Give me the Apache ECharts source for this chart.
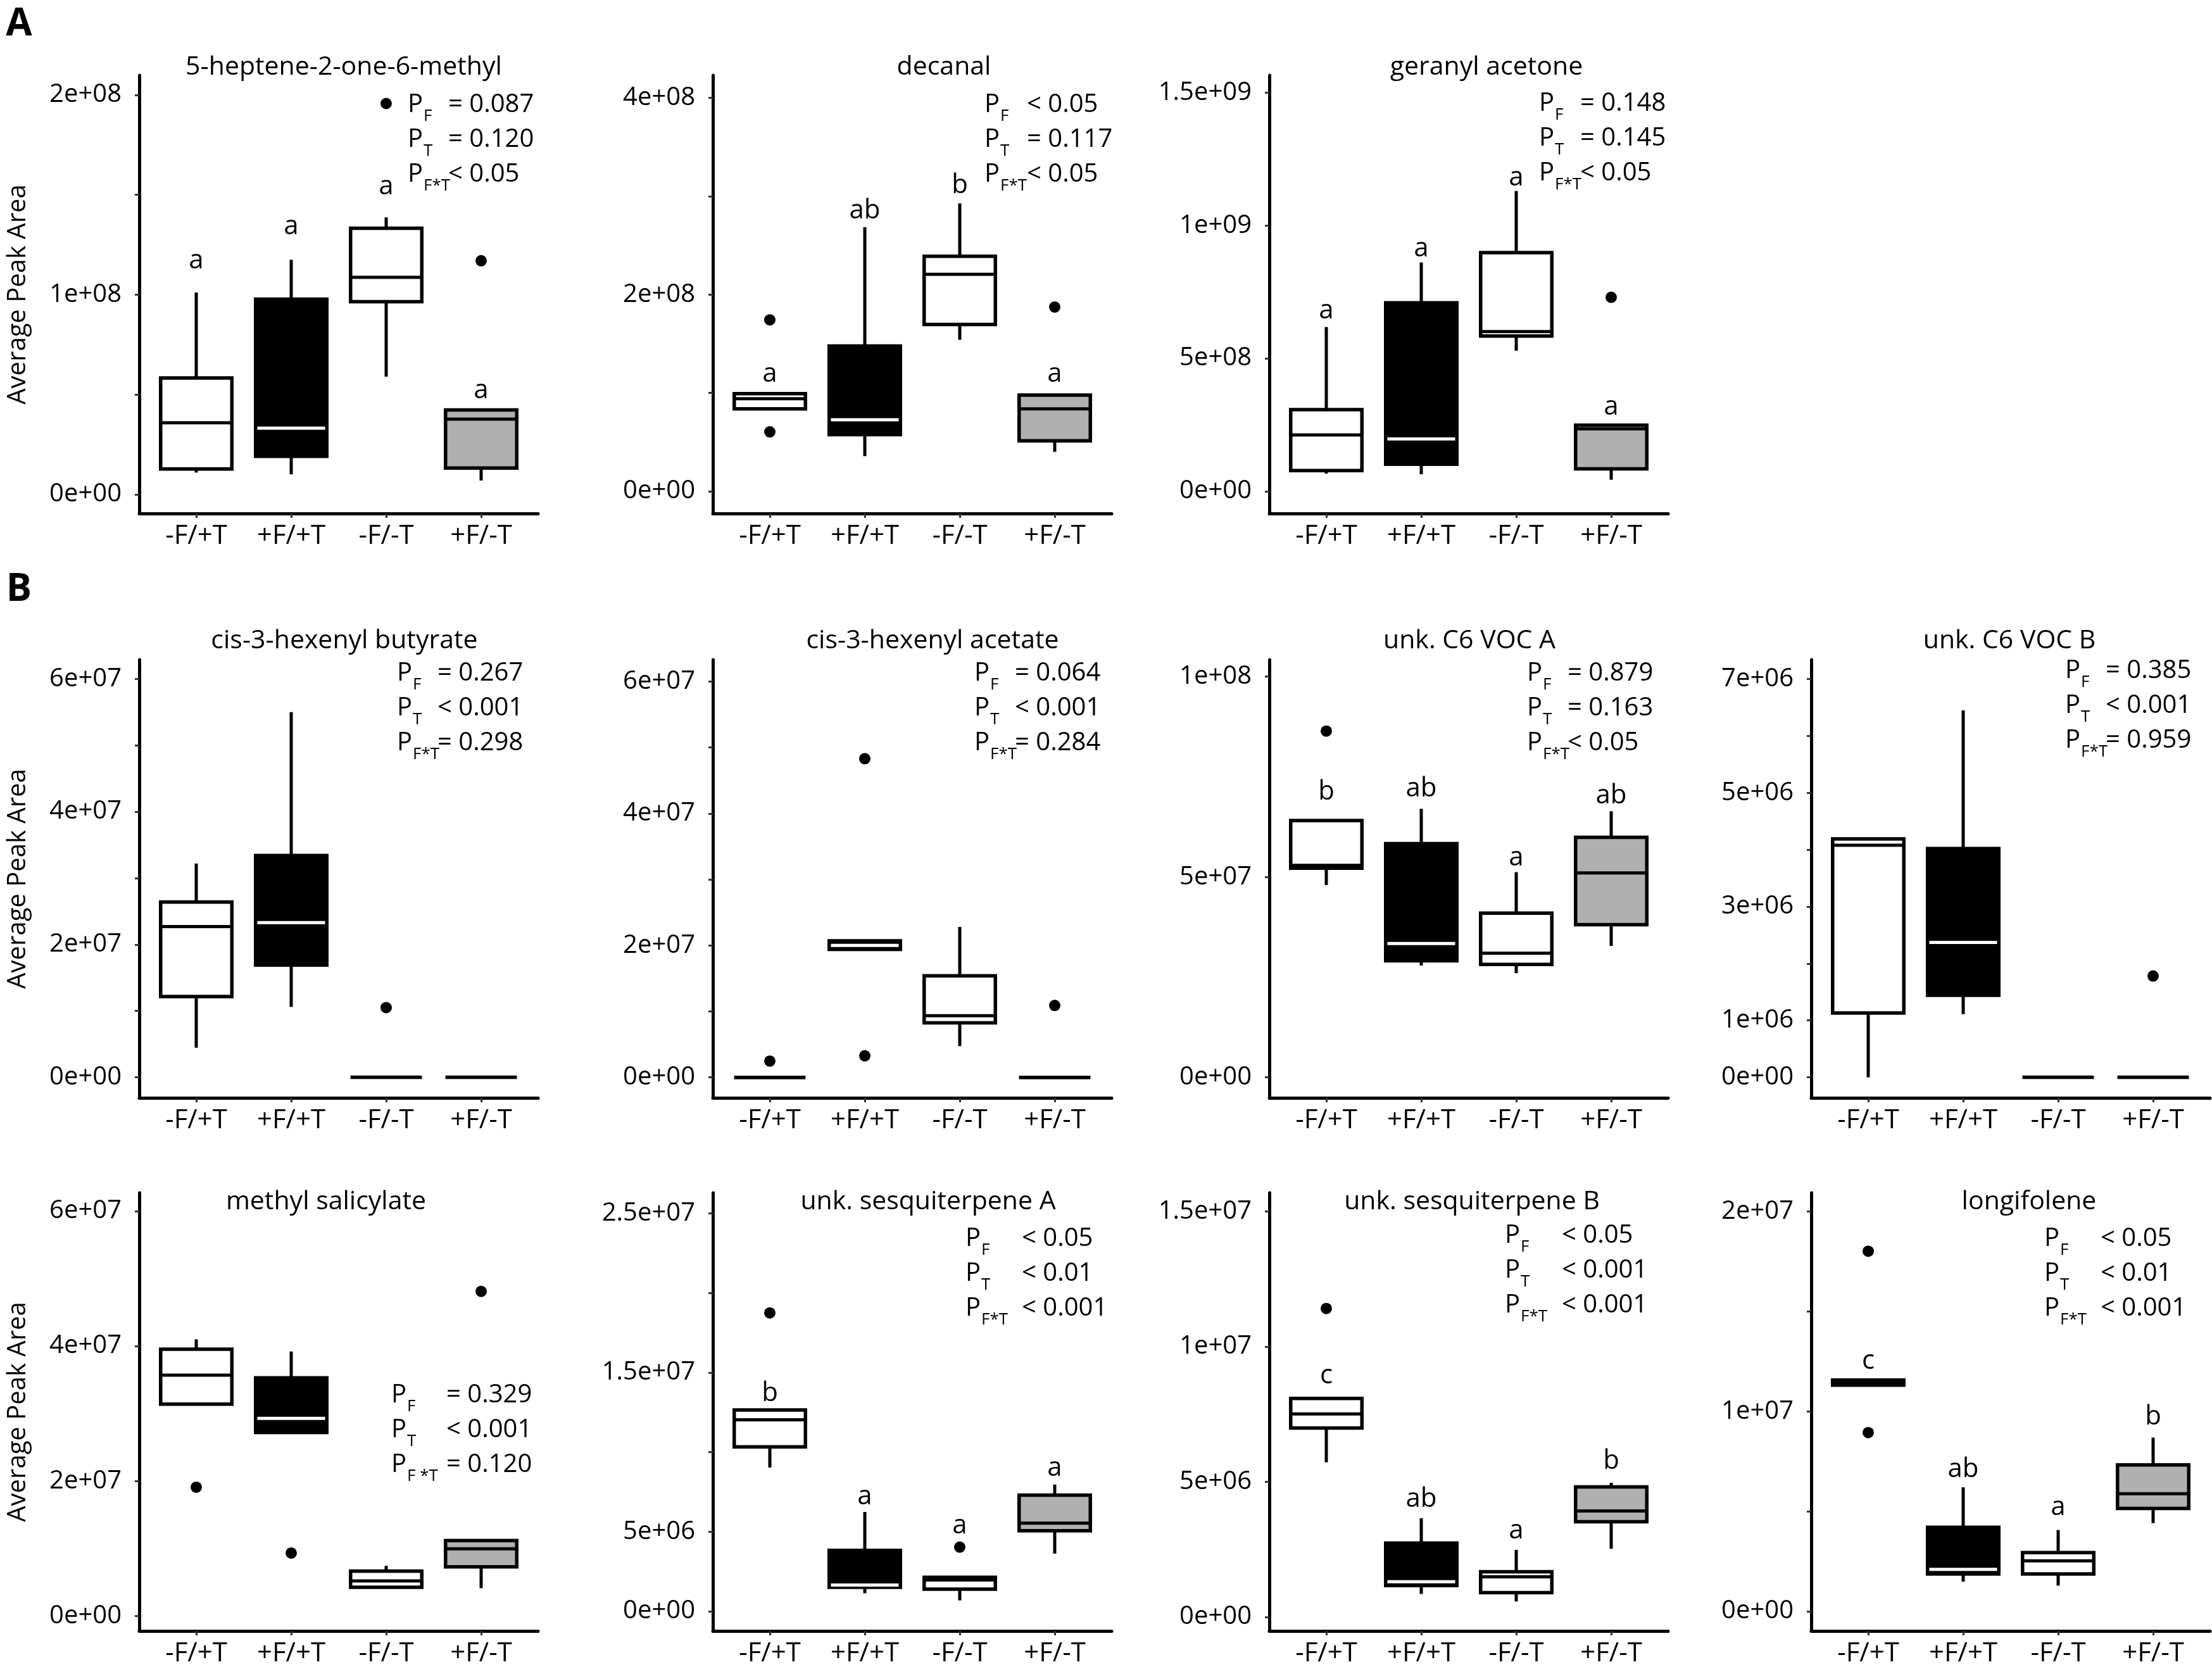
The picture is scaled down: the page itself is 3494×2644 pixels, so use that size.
<!DOCTYPE html>
<html lang="en">
<head>
<meta charset="UTF-8" />
<title>VOC boxplots</title>
<script src="https://cdn.jsdelivr.net/npm/echarts@6/dist/echarts.min.js"></script>
<style>
  html, body { margin: 0; padding: 0; background: #fff; }
  #chart { width: 3494px; height: 2644px; }
</style>
</head>
<body>
<div id="chart"></div>
<script>
// ---- data ----
const categories = ['-F/+T', '+F/+T', '-F/-T', '+F/-T'];

const titles = [
  '5-heptene-2-one-6-methyl', 'decanal', 'geranyl acetone',
  'cis-3-hexenyl butyrate', 'cis-3-hexenyl acetate', 'unk. C6 VOC A', 'unk. C6 VOC B',
  'methyl salicylate', 'unk. sesquiterpene A', 'unk. sesquiterpene B', 'longifolene'
];

// [min, Q1, median, Q3, max] per group
const boxStats = [
  [[1.1e7, 1.28e7, 3.59e7, 5.83e7, 1.011e8], [1.01e7, 1.91e7, 3.32e7, 9.78e7, 1.175e8],
   [5.9e7, 9.65e7, 1.087e8, 1.333e8, 1.387e8], [7.0e6, 1.32e7, 3.77e7, 4.23e7, 4.23e7]],
  [[8.39e7, 8.39e7, 9.42e7, 9.94e7, 9.94e7], [3.58e7, 5.76e7, 7.28e7, 1.478e8, 2.687e8],
   [1.541e8, 1.697e8, 2.207e8, 2.39e8, 2.928e8], [4.02e7, 5.13e7, 8.39e7, 9.79e7, 9.79e7]],
  [[6.67e7, 7.77e7, 2.12e8, 3.07e8, 6.18e8], [6.43e7, 1.02e8, 1.97e8, 7.09e8, 8.61e8],
   [5.29e8, 5.84e8, 6.01e8, 8.98e8, 1.13e9], [4.34e7, 8.46e7, 2.35e8, 2.49e8, 2.49e8]],
  [[4.45e6, 1.215e7, 2.27e7, 2.64e7, 3.22e7], [1.06e7, 1.69e7, 2.33e7, 3.34e7, 5.5e7],
   [0, 0, 0, 0, 0], [0, 0, 0, 0, 0]],
  [[0, 0, 0, 0, 0], [1.94e7, 1.94e7, 2.0e7, 2.07e7, 2.07e7],
   [4.74e6, 8.28e6, 9.34e6, 1.54e7, 2.28e7], [0, 0, 0, 0, 0]],
  [[4.8e7, 5.22e7, 5.29e7, 6.41e7, 6.41e7], [2.79e7, 2.91e7, 3.34e7, 5.83e7, 6.7e7],
   [2.6e7, 2.82e7, 3.1e7, 4.1e7, 5.12e7], [3.28e7, 3.81e7, 5.1e7, 5.99e7, 6.64e7]],
  [[0, 1.13e6, 4.08e6, 4.19e6, 4.19e6], [1.11e6, 1.44e6, 2.37e6, 4.02e6, 6.45e6],
   [0, 0, 0, 0, 0], [0, 0, 0, 0, 0]],
  [[3.14e7, 3.14e7, 3.57e7, 3.955e7, 4.1e7], [2.72e7, 2.72e7, 2.93e7, 3.53e7, 3.92e7],
   [4.29e6, 4.29e6, 5.22e6, 6.67e6, 7.45e6], [4.14e6, 7.31e6, 9.98e6, 1.12e7, 1.12e7]],
  [[9.03e6, 1.033e7, 1.203e7, 1.265e7, 1.265e7], [1.13e6, 1.51e6, 1.65e6, 3.82e6, 6.24e6],
   [6.8e5, 1.385e6, 1.96e6, 2.13e6, 2.13e6], [3.62e6, 5.06e6, 5.54e6, 7.3e6, 7.96e6]],
  [[5.72e6, 6.99e6, 7.51e6, 8.08e6, 8.08e6], [8.5e5, 1.16e6, 1.3e6, 2.73e6, 3.65e6],
   [5.7e5, 9.0e5, 1.48e6, 1.67e6, 2.48e6], [2.52e6, 3.52e6, 3.92e6, 4.81e6, 4.96e6]],
  [[1.131e7, 1.131e7, 1.144e7, 1.157e7, 1.157e7], [1.48e6, 1.86e6, 2.09e6, 4.2e6, 6.2e6],
   [1.28e6, 1.86e6, 2.52e6, 2.93e6, 4.06e6], [4.41e6, 5.14e6, 5.88e6, 7.32e6, 8.69e6]]
];

// [group (1-4), value]
const outliers = [
  [[3, 1.957e8], [4, 1.17e8]],
  [[1, 1.744e8], [1, 6.05e7], [4, 1.874e8]],
  [[4, 7.3e8]],
  [[3, 1.05e7]],
  [[1, 2.47e6], [2, 4.83e7], [2, 3.27e6], [4, 1.09e7]],
  [[1, 8.64e7]],
  [[4, 1.78e6]],
  [[1, 1.91e7], [2, 9.35e6], [4, 4.81e7]],
  [[1, 1.875e7], [3, 4.03e6]],
  [[1, 1.141e7]],
  [[1, 1.802e7], [1, 8.94e6]]
];

// significance letters: [group, value, text]
const letters = [
  [[1, 1.17e8, 'a'], [2, 1.34e8, 'a'], [3, 1.54e8, 'a'], [4, 5.2e7, 'a']],
  [[1, 1.19e8, 'a'], [2, 2.85e8, 'ab'], [3, 3.11e8, 'b'], [4, 1.19e8, 'a']],
  [[1, 6.79e8, 'a'], [2, 9.12e8, 'a'], [3, 1.178e9, 'a'], [4, 3.17e8, 'a']],
  [], [],
  [[1, 7.12e7, 'b'], [2, 7.2e7, 'ab'], [3, 5.48e7, 'a'], [4, 7.03e7, 'ab']],
  [], [],
  [[1, 1.37e7, 'b'], [2, 7.19e6, 'a'], [3, 5.37e6, 'a'], [4, 8.99e6, 'a']],
  [[1, 8.91e6, 'c'], [2, 4.35e6, 'ab'], [3, 3.19e6, 'a'], [4, 5.75e6, 'b']],
  [[1, 1.251e7, 'c'], [2, 7.08e6, 'ab'], [3, 5.18e6, 'a'], [4, 9.71e6, 'b']]
];

const pValues = [
  ['= 0.087', '= 0.120', '< 0.05'],
  ['< 0.05', '= 0.117', '< 0.05'],
  ['= 0.148', '= 0.145', '< 0.05'],
  ['= 0.267', '< 0.001', '= 0.298'],
  ['= 0.064', '< 0.001', '= 0.284'],
  ['= 0.879', '= 0.163', '< 0.05'],
  ['= 0.385', '< 0.001', '= 0.959'],
  ['= 0.329', '< 0.001', '= 0.120'],
  ['< 0.05', '< 0.01', '< 0.001'],
  ['< 0.05', '< 0.001', '< 0.001'],
  ['< 0.05', '< 0.01', '< 0.001']
];
const pSubs = ['F', 'T', 'F*T'];
const pSubsWide = ['F', 'T', 'F *T'];

const yRanges = [
  [-9.5e6, 2.098e8], [-2.25e7, 4.23e8], [-8.34e7, 1.565e9],
  [-3.1e6, 6.29e7], [-3.1e6, 6.33e7], [-5.1e6, 1.042e8], [-3.62e5, 7.34e6],
  [-2.19e6, 6.27e7], [-1.24e6, 2.63e7], [-5.2e5, 1.569e7], [-9.9e5, 2.094e7]
];
const yTicks = [
  [0, 5e7, 1e8, 1.5e8, 2e8], [0, 1e8, 2e8, 3e8, 4e8], [0, 5e8, 1e9, 1.5e9],
  [0, 1e7, 2e7, 3e7, 4e7, 5e7, 6e7], [0, 1e7, 2e7, 3e7, 4e7, 5e7, 6e7], [0, 5e7, 1e8],
  [0, 1e6, 2e6, 3e6, 4e6, 5e6, 6e6, 7e6],
  [0, 2e7, 4e7, 6e7], [0, 5e6, 1e7, 1.5e7, 2e7, 2.5e7], [0, 5e6, 1e7, 1.5e7],
  [0, 5e6, 1e7, 1.5e7, 2e7]
];
const yLabelValues = [
  [0, 1e8, 2e8], [0, 2e8, 4e8], [0, 5e8, 1e9, 1.5e9],
  [0, 2e7, 4e7, 6e7], [0, 2e7, 4e7, 6e7], [0, 5e7, 1e8], [0, 1e6, 3e6, 5e6, 7e6],
  [0, 2e7, 4e7, 6e7], [0, 5e6, 1.5e7, 2.5e7], [0, 5e6, 1e7, 1.5e7], [0, 1e7, 2e7]
];
const yLabelTexts = [
  ['0e+00', '1e+08', '2e+08'], ['0e+00', '2e+08', '4e+08'], ['0e+00', '5e+08', '1e+09', '1.5e+09'],
  ['0e+00', '2e+07', '4e+07', '6e+07'], ['0e+00', '2e+07', '4e+07', '6e+07'],
  ['0e+00', '5e+07', '1e+08'], ['0e+00', '1e+06', '3e+06', '5e+06', '7e+06'],
  ['0e+00', '2e+07', '4e+07', '6e+07'], ['0e+00', '5e+06', '1.5e+07', '2.5e+07'],
  ['0e+00', '5e+06', '1e+07', '1.5e+07'], ['0e+00', '1e+07', '2e+07']
];

// ---- layout and style ----
const FONT = '"Open Sans", "Noto Sans", sans-serif';
const colLeft = [220, 1126, 2005, 2861];
const rowTop = [119, 1042, 1884];
const plotH = 692;
const plotW = 630;
const panelPos = [[0, 0], [0, 1], [0, 2], [1, 0], [1, 1], [1, 2], [1, 3], [2, 0], [2, 1], [2, 2], [2, 3]];
const titleY = [106, 1012, 1898];
const titleDx = [323, 365, 343, 324, 347, 316, 313, 295, 340, 320, 344];
// [P left offset, operator offset, first line y]
const pLayout = [
  [424, 488, 166], [429, 496, 166], [426, 491, 164],
  [407, 471, 1064], [413, 477, 1064], [407, 471, 1064], [401, 465, 1060],
  [398, 485, 2204], [399, 488, 1957], [372, 462, 1952], [368, 457, 1957]
];
const boxFill = ['#ffffff', '#000000', '#ffffff', '#b0b0b0'];
const medianColor = ['#000000', '#ffffff', '#000000', '#000000'];
const BOX_LW = 5.5;
const LINE_LW = 5;

function drawBox(params, api) {
  const k = params.dataIndex;
  const x = api.value(0);
  const lo = api.coord([x, api.value(1)]);
  const q1 = api.coord([x, api.value(2)]);
  const md = api.coord([x, api.value(3)]);
  const q3 = api.coord([x, api.value(4)]);
  const hi = api.coord([x, api.value(5)]);
  const half = api.size([0.75, 0])[0] / 2;
  const inset = k === 1 ? BOX_LW / 2 : 0;
  return {
    type: 'group',
    silent: true,
    children: [
      { type: 'line', shape: { x1: lo[0], y1: lo[1], x2: q1[0], y2: q1[1] },
        style: { stroke: '#000', lineWidth: LINE_LW } },
      { type: 'line', shape: { x1: q3[0], y1: q3[1], x2: hi[0], y2: hi[1] },
        style: { stroke: '#000', lineWidth: LINE_LW } },
      { type: 'rect', shape: { x: q1[0] - half, y: q3[1], width: half * 2, height: q1[1] - q3[1] },
        style: { fill: boxFill[k], stroke: '#000', lineWidth: BOX_LW } },
      { type: 'line', shape: { x1: md[0] - half + inset, y1: md[1], x2: md[0] + half - inset, y2: md[1] },
        style: { stroke: medianColor[k], lineWidth: LINE_LW } }
    ]
  };
}

function textEl(text, x, y, size, align, weight) {
  return {
    type: 'text', x: x, y: y, silent: true,
    style: {
      text: text, fill: '#000', fontSize: size, fontFamily: FONT, fontWeight: weight || 500,
      align: align, verticalAlign: 'middle', textAlign: align, textVerticalAlign: 'middle'
    }
  };
}

const grids = [], xAxes = [], yAxes = [], series = [], graphics = [];

panelPos.forEach(function (pos, i) {
  const row = pos[0], col = pos[1];
  const left = colLeft[col], top = rowTop[row];
  grids.push({ left: left, top: top, width: plotW, height: plotH, outerBoundsMode: 'none', containLabel: false });

  xAxes.push({
    gridIndex: i, type: 'value', min: 0.4, max: 4.6,
    splitLine: { show: false },
    axisLine: { show: true, onZero: false, lineStyle: { color: '#000', width: LINE_LW } },
    axisTick: { show: true, customValues: [1, 2, 3, 4], length: 7, lineStyle: { color: '#333', width: 3 } },
    axisLabel: {
      customValues: [1, 2, 3, 4], formatter: function (v) { return categories[Math.round(v) - 1]; },
      fontSize: 42, fontFamily: FONT, fontWeight: 500, color: '#000', margin: 15
    }
  });

  yAxes.push({
    gridIndex: i, type: 'value', min: yRanges[i][0], max: yRanges[i][1],
    splitLine: { show: false },
    axisLine: { show: true, onZero: false, lineStyle: { color: '#000', width: LINE_LW } },
    axisTick: { show: true, customValues: yTicks[i], length: 7, lineStyle: { color: '#333', width: 3 } },
    axisLabel: {
      customValues: yLabelValues[i],
      formatter: function (v) {
        const k = yLabelValues[i].indexOf(v);
        return k >= 0 ? yLabelTexts[i][k] : '';
      },
      fontSize: 40, fontFamily: FONT, fontWeight: 500, color: '#000', margin: 28
    },
    name: col === 0 ? 'Average Peak Area' : '',
    nameLocation: 'middle', nameRotate: 90, nameGap: 171,
    nameTextStyle: { fontSize: 40, fontFamily: FONT, fontWeight: 500, color: '#000' }
  });

  series.push({
    type: 'custom', xAxisIndex: i, yAxisIndex: i, z: 2,
    data: boxStats[i].map(function (s, k) { return [k + 1].concat(s); }),
    encode: { x: 0, y: [1, 2, 3, 4, 5] },
    renderItem: drawBox
  });

  series.push({
    type: 'scatter', xAxisIndex: i, yAxisIndex: i, z: 3, silent: true,
    symbolSize: 18, itemStyle: { color: '#000', opacity: 1, borderWidth: 0 },
    data: outliers[i]
  });

  series.push({
    type: 'custom', xAxisIndex: i, yAxisIndex: i, z: 4,
    data: letters[i].map(function (d) { return [d[0], d[1]]; }),
    encode: { x: 0, y: 1 },
    renderItem: function (params, api) {
      const pt = api.coord([api.value(0), api.value(1)]);
      return textEl(letters[i][params.dataIndex][2], pt[0], pt[1], 42, 'center');
    }
  });

  graphics.push(textEl(titles[i], left + titleDx[i], titleY[row], 41, 'center'));

  const subs = i === 7 ? pSubsWide : pSubs;
  pValues[i].forEach(function (v, j) {
    const y = pLayout[i][2] + j * 55;
    graphics.push(textEl('P', left + pLayout[i][0], y, 40, 'left'));
    graphics.push(textEl(subs[j], left + pLayout[i][0] + 25, y + 18, 26, 'left'));
    graphics.push(textEl(v, left + pLayout[i][1], y, 40, 'left'));
  });
});

graphics.push(textEl('A', 30, 39, 60, 'center', 'bold'));
graphics.push(textEl('B', 30, 932, 60, 'center', 'bold'));

const chart = echarts.init(document.getElementById('chart'), null, { renderer: 'canvas' });
chart.setOption({
  animation: false,
  backgroundColor: '#fff',
  grid: grids,
  xAxis: xAxes,
  yAxis: yAxes,
  series: series,
  graphic: { elements: graphics }
});
</script>
</body>
</html>
